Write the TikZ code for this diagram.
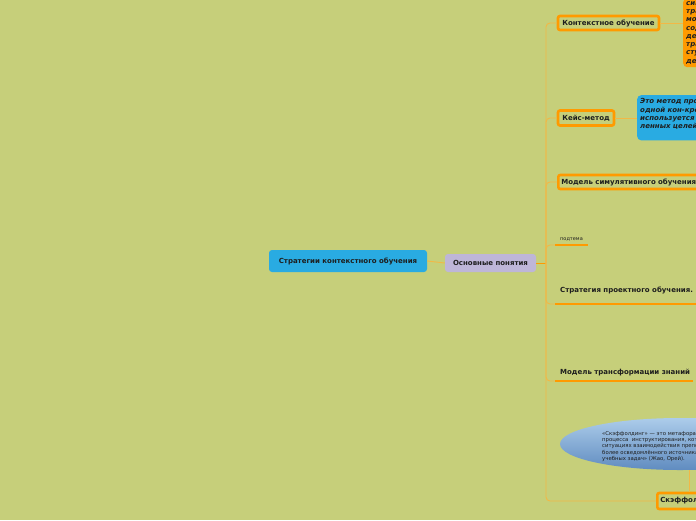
\documentclass[tikz,border=0pt]{standalone}
\usepackage{fontspec}
\setmainfont{DejaVu Sans}
\definecolor{bg}{RGB}{198,207,122}
\definecolor{org}{RGB}{255,154,0}
\definecolor{conn}{RGB}{242,184,70}
\definecolor{blu}{RGB}{41,171,226}
\definecolor{lav}{RGB}{190,182,216}
\definecolor{txt}{RGB}{30,30,30}
\definecolor{elltop}{RGB}{172,204,234}
\definecolor{ellbot}{RGB}{96,140,192}
\begin{document}
\begin{tikzpicture}[x=1pt,y=-1pt,
  conn/.style={draw=conn, line width=0.9pt, rounded corners=4pt},
  uline/.style={draw=org, line width=2.4pt},
  fnt/.style={font=\bfseries\fontsize{7}{8}\selectfont, text=txt},
  obox/.style={fnt, draw=org, line width=2.6pt, rounded corners=2pt, fill=bg, inner sep=0pt, align=left},
  note/.style={font=\bfseries\itshape\fontsize{7}{8.4}\selectfont, text=txt, rounded corners=4pt, align=left, inner sep=3pt, anchor=north west}
]
\useasboundingbox (0,0) rectangle (696,520);
\clip (0,0) rectangle (696,520);
\fill[bg] (0,0) rectangle (696,520);

% root and main
\node[fnt, fill=blu, rounded corners=3pt, minimum width=158pt, minimum height=22pt, inner sep=0pt] (root) at (348,261) {Стратегии контекстного обучения};
\node[fnt, fill=lav, rounded corners=3pt, minimum width=91pt, minimum height=18pt, inner sep=0pt] (osn) at (490.5,263) {Основные понятия};
\draw[conn] (root.east) -- (osn.west);
\coordinate (t) at (546,263);
\draw[draw=org, line width=1pt] (osn.east) -- (t);

% children boxes
\node[obox, minimum width=101pt, minimum height=14pt] (kont) at (608.5,23) {Контекстное обучение};
\node[obox, minimum width=56pt, minimum height=15pt] (case) at (586,118) {Кейс-метод};
\node[obox, anchor=west, minimum width=160pt, minimum height=14pt, text width=154pt, inner xsep=3pt] (sim) at (557,182) {Модель симулятивного обучения};
\node[obox, anchor=west, minimum height=16pt, text width=90pt, inner xsep=3pt] (skaf) at (656,501) {Скэффолдинг};

% notes
\node[note, fill=org, text width=110pt, inner sep=3pt, font=\bfseries\itshape\fontsize{7}{8.3}\selectfont] (onote) at (683,-2) {синтез\\традиционных\\моделей\\содержания\\деятельности\\трансформация\\студента\\деятельность};
\node[note, fill=blu, text width=150pt, inner sep=3pt] (bnote) at (637,95) {Это метод проблемного\\одной кон-кретной ситуации,\\используется для достижения\\ленных целей обучения\\\mbox{}};

% underline topics
\node[font=\fontsize{5}{6}\selectfont, text=txt, anchor=west, inner sep=0pt] (pod) at (560,239) {подтема};
\coordinate (podu) at (555,245);
\draw[uline] (podu) -- ++(33,0);
\node[fnt, anchor=west, inner sep=0pt] (proj) at (560,290) {Стратегия проектного обучения.};
\coordinate (proju) at (555,304);
\draw[uline] (proju) -- ++(160,0);
\node[fnt, anchor=west, inner sep=0pt] (trans) at (560,373) {Модель трансформации знаний};
\coordinate (transu) at (555,381);
\draw[uline] (transu) -- (693,381);

% ellipse
\shade[top color=elltop, bottom color=ellbot, draw=none] (680,444) ellipse [x radius=120pt, y radius=26pt];
\node[font=\fontsize{5.35}{6.3}\selectfont, text=txt, anchor=north west, align=left, inner sep=0pt] (ell) at (602,431) {«Скэффолдинг» — это метафора для описания\\процесса\ \ инструктирования, который происходит в\\ситуациях взаимодействия преподавателя и студента,\\более осведомлённого источника знаний при решении\\учебных задач» (Жао, Орей).};
\coordinate (ellb) at (689,470);
\draw[conn] (ellb) -- (ellb |- skaf.north);

% connectors
\draw[conn] (t) |- (kont.west);
\draw[conn] (t) |- (case.west);
\draw[conn] (t) |- (sim.west);
\draw[conn] (t) |- (podu);
\draw[conn] (t) |- (proju);
\draw[conn] (t) |- (transu);
\draw[conn] (t) |- (skaf.west);
\draw[conn] (kont.east) -- (onote.west |- kont.east);
\draw[conn] (case.east) -- (bnote.west |- case.east);
\end{tikzpicture}
\end{document}
